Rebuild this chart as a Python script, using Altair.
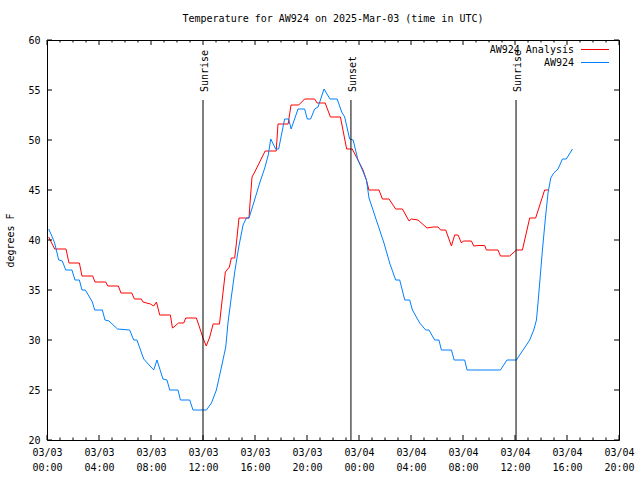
import altair as alt
import pandas as pd

# ---------------- data ----------------
# hours since 2025-03-03 00:00 UTC
red_hours = [0.13, 0.59, 1.46, 1.69, 2.49, 2.69, 3.52, 3.69, 4.52, 4.67, 5.49, 5.69,
             6.52, 6.72, 7.26, 7.38, 7.95, 8.21, 8.42, 8.67, 9.49, 9.65, 9.85, 10.11,
             10.52, 10.67, 11.49, 11.75, 12.0, 12.25, 12.52, 12.78, 13.27, 13.42, 13.72,
             14.03, 14.18, 14.44, 14.57, 14.65, 14.77, 15.54, 15.59, 15.77, 15.98, 16.78,
             17.63, 17.77, 18.55, 18.77, 19.36, 19.82, 20.59, 20.78, 21.40, 21.80, 22.57,
             23.05, 23.48, 23.92, 24.31, 24.57, 24.76, 25.54, 25.80, 26.31, 26.82, 27.34,
             27.85, 28.03, 28.54, 29.23, 29.69, 30.08, 30.28, 30.67, 31.11, 31.36, 31.62,
             31.88, 32.02, 32.65, 32.82, 33.23, 33.67, 33.80, 34.69, 34.88, 35.59, 36.11,
             36.57, 37.13, 37.59, 38.28, 38.62]
red_temp = [40.3, 39.1, 39.1, 37.7, 37.7, 36.4, 36.4, 35.8, 35.8, 35.4, 35.4, 34.7,
            34.7, 34.1, 34.1, 33.8, 33.6, 33.4, 33.8, 32.5, 32.5, 31.2, 31.4, 31.7,
            31.7, 32.2, 32.2, 31.2, 30.2, 29.4, 30.3, 31.6, 31.6, 33.4, 36.8,
            37.3, 38.2, 38.2, 39.7, 40.7, 42.2, 42.2, 43.2, 46.3, 46.8, 48.9,
            48.9, 51.6, 51.6, 53.5, 53.5, 54.1, 54.1, 53.7, 53.7, 52.3, 52.3,
            49.1, 49.1, 48.0, 47.0, 46.0, 45.0, 45.0, 44.1, 44.1, 43.1, 43.1,
            41.9, 42.1, 42.0, 41.2, 41.3, 41.3, 41.0, 41.0, 39.4, 40.5, 40.5,
            39.7, 39.9, 39.9, 39.4, 39.45, 39.45, 39.0, 39.0, 38.4, 38.4, 39.0,
            39.0, 42.2, 42.2, 45.0, 45.0]

blue_hours = [0.13, 0.34, 0.59, 0.90, 1.18, 1.44, 1.92, 2.15, 2.49, 2.69, 2.95, 3.49,
              3.67, 4.26, 4.46, 4.77, 5.42, 6.36, 6.67, 6.92, 7.44, 8.21, 8.46, 8.92,
              9.23, 9.44, 10.08, 10.26, 10.98, 11.23, 12.26, 12.65, 13.03, 13.42, 13.75,
              13.92, 14.18, 14.44, 14.75, 15.08, 15.34, 15.54, 15.92, 16.36, 16.75, 17.02,
              17.21, 17.59, 17.82, 18.11, 18.28, 18.59, 18.78, 19.31, 19.82, 20.02, 20.28,
              20.59, 20.85, 21.31, 21.77, 22.32, 22.67, 22.90, 23.28, 23.55, 23.92, 24.26,
              24.57, 24.77, 25.08, 25.28, 25.59, 25.92, 26.36, 26.82, 27.13, 27.52, 27.90,
              28.11, 28.67, 29.13, 29.38, 29.82, 30.15, 30.34, 31.11, 31.32, 32.13, 32.31,
              34.88, 35.38, 36.11, 36.62, 37.13, 37.44, 37.65, 37.77, 37.90, 38.11, 38.34,
              38.54, 38.75, 38.98, 39.31, 39.65, 39.95, 40.42]
blue_temp = [41.1, 40.5, 39.7, 38.0, 37.9, 37.0, 37.0, 36.0, 36.0, 35.0, 35.0, 33.8,
             33.0, 33.0, 32.0, 31.9, 31.1, 31.0, 30.0, 30.0, 28.1, 27.0, 28.0, 26.1,
             26.0, 25.0, 25.0, 24.0, 24.0, 23.0, 23.0, 23.7, 25.0, 27.3, 29.3,
             31.7, 34.3, 36.8, 39.3, 41.5, 42.2, 42.2, 43.8, 45.7, 47.2, 48.5,
             50.1, 49.1, 49.1, 51.0, 52.1, 52.1, 51.1, 53.1, 53.1, 52.1, 52.1,
             53.1, 53.3, 55.1, 54.1, 54.1, 52.8, 52.3, 50.1, 50.0, 48.0, 47.0,
             46.0, 44.2, 43.0, 42.2, 41.0, 39.7, 37.7, 36.0, 36.0, 34.0, 34.0,
             33.0, 31.7, 31.0, 31.0, 30.0, 30.0, 29.0, 29.0, 28.0, 28.0, 27.0,
             27.0, 28.0, 28.0, 29.0, 30.0, 31.0, 32.0, 33.7, 35.7, 39.0, 42.2,
             44.7, 46.2, 46.7, 47.1, 48.1, 48.1, 49.1]

series_names = ["AW924 Analysis", "AW924"]
series_colors = ["#ff0000", "#0080ff"]

sun_hours = [12.0, 23.38, 36.08]
sun_labels = ["Sunrise", "Sunset", "Sunrise"]

x_label_hours = list(range(0, 45, 4))
x_minor_hours = list(range(0, 45, 1))
y_tick_values = [20, 25, 30, 35, 40, 45, 50, 55, 60]

title_text = "Temperature for AW924 on 2025-Mar-03 (time in UTC)"
y_title = "degrees F"

# ---------------- tables ----------------
df = pd.concat([
    pd.DataFrame({"hours": red_hours, "temp": red_temp, "series": series_names[0]}),
    pd.DataFrame({"hours": blue_hours, "temp": blue_temp, "series": series_names[1]}),
], ignore_index=True)
sun_df = pd.DataFrame({"hours": sun_hours, "label": sun_labels})
xt_df = pd.DataFrame({"hours": x_minor_hours})
yt_df = pd.DataFrame({"temp": y_tick_values})

FONT = "DejaVu Sans Mono"
W, H = 572, 400

xscale = alt.Scale(domain=[0, 44], nice=False, zero=False)
yscale = alt.Scale(domain=[20, 60], nice=False, zero=False)

label_expr = ("[datum.value < 24 ? '03/03' : '03/04', "
              "(datum.value % 24 < 10 ? '0' : '') + (datum.value % 24) + ':00']")

x_axis = alt.Axis(values=x_label_hours, labelExpr=label_expr, ticks=False, tickSize=0,
                  domain=False, grid=False, title=None, labelFont=FONT,
                  labelFontSize=10, labelColor="black", labelLineHeight=15,
                  labelPadding=7, labelFlush=False, labelOverlap=False, labelBound=False)
y_axis = alt.Axis(values=y_tick_values, ticks=False, tickSize=0, domain=False,
                  grid=False, title=y_title, labelFont=FONT, labelFontSize=10,
                  labelColor="black", labelPadding=7, labelFlush=False,
                  labelOverlap=False, titleFont=FONT, titleFontSize=10,
                  titleFontWeight="normal", titleColor="black", titleAngle=270,
                  titleX=-37, titleY=H / 2, titleAlign="center",
                  titleBaseline="middle")

xenc = alt.X("hours:Q", scale=xscale, axis=x_axis)
yenc = alt.Y("temp:Q", scale=yscale, axis=y_axis)

lines = alt.Chart(df).mark_line(strokeWidth=1).encode(
    x=xenc, y=yenc,
    color=alt.Color("series:N", scale=alt.Scale(domain=series_names, range=series_colors),
                    legend=None),
)

major = "datum.hours % 4 == 0"
minor = "datum.hours % 4 != 0"

tick_layers = [
    alt.Chart(xt_df).transform_filter(major).mark_rule(color="black", strokeWidth=1)
    .encode(x=xenc, y=alt.value(H), y2=alt.value(H - 5)),
    alt.Chart(xt_df).transform_filter(minor).mark_rule(color="black", strokeWidth=1)
    .encode(x=xenc, y=alt.value(H), y2=alt.value(H - 2.5)),
    alt.Chart(xt_df).transform_filter(major).mark_rule(color="black", strokeWidth=1)
    .encode(x=xenc, y=alt.value(0), y2=alt.value(5)),
    alt.Chart(xt_df).transform_filter(minor).mark_rule(color="black", strokeWidth=1)
    .encode(x=xenc, y=alt.value(0), y2=alt.value(2.5)),
    alt.Chart(yt_df).mark_rule(color="black", strokeWidth=1)
    .encode(y=yenc, x=alt.value(0), x2=alt.value(5)),
    alt.Chart(yt_df).mark_rule(color="black", strokeWidth=1)
    .encode(y=yenc, x=alt.value(W), x2=alt.value(W - 5)),
]

sun_rules = alt.Chart(sun_df).mark_rule(color="black", strokeWidth=1).encode(
    x=xenc, y=alt.value(60), y2=alt.value(H))
sun_text = alt.Chart(sun_df).mark_text(
    angle=270, align="left", baseline="alphabetic", dy=5, font=FONT, fontSize=10,
    color="black").encode(x=xenc, y=alt.value(52), text="label:N")

leg_df = pd.DataFrame({"series": series_names})
legend_layers = []
for i, (name, col) in enumerate(zip(series_names, series_colors)):
    yy = 9.5 + 13 * i
    legend_layers.append(
        alt.Chart(leg_df).transform_filter(alt.datum.series == name)
        .mark_text(align="right", baseline="middle", font=FONT, fontSize=10, color="black")
        .encode(text="series:N", x=alt.value(527), y=alt.value(yy)))
    legend_layers.append(
        alt.Chart(leg_df).transform_filter(alt.datum.series == name)
        .mark_rule(color=col, strokeWidth=1)
        .encode(x=alt.value(534), x2=alt.value(562), y=alt.value(yy)))

chart = alt.layer(lines, *tick_layers, sun_rules, sun_text, *legend_layers).properties(
    width=W, height=H,
    padding={"left": 47, "top": 40, "right": 21, "bottom": 40},
    autosize=alt.AutoSizeParams(type="none"),
    title=alt.TitleParams(text=title_text, font=FONT, fontSize=10, fontWeight="normal",
                          color="black", anchor="middle", offset=11),
    background="white",
).configure_view(stroke="black", strokeWidth=1)

chart.save("out.html", embed_options={"renderer": "svg", "actions": False})
